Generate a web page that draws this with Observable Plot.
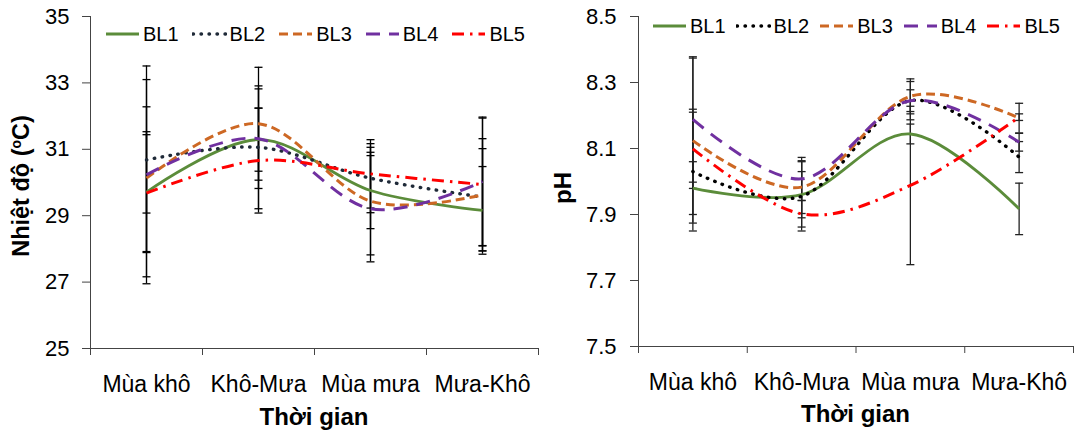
<!DOCTYPE html>
<html><head><meta charset="utf-8">
<script src="https://cdn.jsdelivr.net/npm/d3@7"></script>
<script src="https://cdn.jsdelivr.net/npm/@observablehq/plot@0.6"></script>
<style>
body{margin:0;background:#fff;font-family:"Liberation Sans",Arial,sans-serif;}
#wrap{position:relative;width:1077px;height:430px;overflow:hidden;background:#fff;}
.panel{position:absolute;top:0;}
.legend{position:absolute;display:flex;align-items:center;font-size:20px;color:#000;line-height:20px;}
.item{display:flex;align-items:center;}
.item svg{display:block;margin-right:3px;}
</style></head><body><div id="wrap"></div>
<script>
// ---- data ----
const seasons = ["Mùa khô", "Khô-Mưa", "Mùa mưa", "Mưa-Khô"];
const seriesNames = ["BL1", "BL2", "BL3", "BL4", "BL5"];
const tempTicks = [25, 27, 29, 31, 33, 35];
const phTicks = [7.5, 7.7, 7.9, 8.1, 8.3, 8.5];

// Temperature (°C) means
const tempBL1 = [29.71, 31.29, 29.76, 29.16];
const tempBL2 = [30.68, 31.06, 30.13, 29.56];
const tempBL3 = [30.13, 31.77, 29.44, 29.63];
const tempBL4 = [30.23, 31.32, 29.21, 30.03];
const tempBL5 = [29.68, 30.66, 30.26, 29.94];
// Temperature SD
const tempSdBL1 = [1.82, 0.95, 1.15, 1.32];
const tempSdBL2 = [1.60, 1.85, 1.04, 1.46];
const tempSdBL3 = [2.97, 1.70, 1.62, 1.69];
const tempSdBL4 = [3.28, 1.50, 1.60, 1.94];
const tempSdBL5 = [1.76, 1.58, 1.03, 2.00];

// pH means
const phBL1 = [7.980, 7.960, 8.144, 7.917];
const phBL2 = [8.030, 7.955, 8.245, 8.074];
const phBL3 = [8.124, 7.983, 8.258, 8.192];
const phBL4 = [8.188, 8.008, 8.245, 8.119];
const phBL5 = [8.099, 7.902, 7.988, 8.195];
// pH SD
const phSdBL1 = [0.080, 0.070, 0.030, 0.078];
const phSdBL2 = [0.180, 0.105, 0.058, 0.047];
const phSdBL3 = [0.250, 0.080, 0.053, 0.045];
const phSdBL4 = [0.190, 0.065, 0.033, 0.027];
const phSdBL5 = [0.120, 0.040, 0.240, 0.010];

// ---- styles ----
const FONT = "Liberation Sans, Arial, sans-serif";
const lineStyles = {
  BL1: {stroke: "#5b8c3a", strokeWidth: 2.8, strokeDasharray: null, strokeLinecap: "butt"},
  BL2: {stroke: "#1f2a38", strokeWidth: 3.4, strokeDasharray: "0.5 7.5", strokeLinecap: "round"},
  BL3: {stroke: "#cd6824", strokeWidth: 3, strokeDasharray: "9 5", strokeLinecap: "butt"},
  BL4: {stroke: "#7030a0", strokeWidth: 3, strokeDasharray: "14 9", strokeLinecap: "butt"},
  BL5: {stroke: "#ff0000", strokeWidth: 3, strokeDasharray: "12 6 2.5 6", strokeLinecap: "butt"}
};

function rowsFrom(meansList, sdList) {
  const rows = [];
  seriesNames.forEach((s, k) => {
    seasons.forEach((season, i) => rows.push({s, i, v: meansList[k][i], sd: sdList[k][i]}));
  });
  return rows;
}

const capSymbol = {draw(ctx) { ctx.moveTo(-4, 0); ctx.lineTo(4, 0); }};

function makeChart(o) {
  const rows = rowsFrom(o.means, o.sds);
  const marks = [
    Plot.ruleX(rows, {x: "i", y1: d => d.v - d.sd, y2: d => d.v + d.sd, stroke: o.errColor, strokeWidth: 1.3}),
    Plot.dot(rows, {x: "i", y: d => d.v + d.sd, symbol: capSymbol, stroke: o.errColor, strokeWidth: 1.3, fill: "none"}),
    Plot.dot(rows, {x: "i", y: d => d.v - d.sd, symbol: capSymbol, stroke: o.errColor, strokeWidth: 1.3, fill: "none"}),
  ];
  seriesNames.forEach(s => {
    const st = {...lineStyles[s]};
    if (s === "BL2") st.stroke = o.dotColor;
    marks.push(Plot.line(rows.filter(d => d.s === s), {x: "i", y: "v", curve: "cardinal", tension: 0, ...st}));
  });
  marks.push(
    Plot.ruleY([o.yDomain[0]], {stroke: "#444", strokeWidth: 1}),
    Plot.ruleX([-0.5], {stroke: "#444", strokeWidth: 1}),
    Plot.axisY({ticks: o.yTicks, tickSize: 8, tickPadding: o.yPad, tickFormat: o.yFmt, fontSize: 22, label: null, stroke: "#444", fill: "#000"}),
    Plot.axisX({ticks: [-0.5, 0.5, 1.5, 2.5, 3.5], tickSize: 7, tickFormat: () => "", label: null, stroke: "#444"}),
    Plot.axisX({ticks: [0, 1, 2, 3], tickSize: 0, tickPadding: 27, tickFormat: i => seasons[i], fontSize: 23, label: null, fill: "#000"})
  );
  const svg = Plot.plot({
    width: o.width, height: 430,
    marginLeft: o.marginLeft, marginRight: o.marginRight, marginTop: 16, marginBottom: o.marginBottom,
    x: {domain: [-0.5, 3.5]},
    y: {domain: o.yDomain},
    style: {fontFamily: FONT, fontSize: "22px", color: "#000", background: "transparent", overflow: "visible"},
    marks
  });
  const sel = d3.select(svg);
  const yt = sel.append("text")
    .attr("transform", `translate(${o.yTitleX},${o.yTitleY}) rotate(-90)`)
    .attr("text-anchor", "middle").attr("font-weight", "bold").attr("font-size", o.yTitleSize)
    .attr("font-family", FONT).attr("fill", "#000");
  o.yTitle.forEach(part => {
    const ts = yt.append("tspan").text(part.t);
    if (part.sup) ts.attr("font-size", 14).attr("dy", -8);
    else if (part.after) ts.attr("dy", 8);
  });
  sel.append("text")
    .attr("x", (o.marginLeft + o.width - o.marginRight) / 2).attr("y", o.xTitleY)
    .attr("text-anchor", "middle").attr("font-weight", "bold").attr("font-size", 24)
    .attr("font-family", FONT).attr("fill", "#000")
    .text("Thời gian");
  return svg;
}

function makeLegend(left, top, gap, dotColor) {
  const lg = document.createElement("div");
  lg.className = "legend";
  lg.style.left = left + "px"; lg.style.top = top + "px"; lg.style.gap = gap + "px";
  seriesNames.forEach(s => {
    const st = lineStyles[s];
    const it = document.createElement("div"); it.className = "item";
    const sw = d3.create("svg").attr("width", 35).attr("height", 10);
    sw.append("line").attr("x1", 1).attr("x2", 34).attr("y1", 5).attr("y2", 5)
      .attr("stroke", s === "BL2" ? dotColor : st.stroke).attr("stroke-width", st.strokeWidth)
      .attr("stroke-dasharray", st.strokeDasharray).attr("stroke-linecap", st.strokeLinecap);
    it.appendChild(sw.node());
    const t = document.createElement("span"); t.textContent = s;
    it.appendChild(t);
    lg.appendChild(it);
  });
  return lg;
}

const wrap = document.getElementById("wrap");

const p1 = document.createElement("div"); p1.className = "panel"; p1.style.left = "0px";
p1.appendChild(makeChart({
  means: [tempBL1, tempBL2, tempBL3, tempBL4, tempBL5],
  sds: [tempSdBL1, tempSdBL2, tempSdBL3, tempSdBL4, tempSdBL5],
  yDomain: [25, 35], yTicks: tempTicks, yFmt: d => String(d), yPad: 13,
  width: 540, marginLeft: 90, marginRight: 2, marginBottom: 82,
  errColor: "#000", dotColor: "#1f2a38",
  yTitle: [{t: "Nhiệt độ ("}, {t: "o", sup: true}, {t: "C)", after: true}], yTitleSize: 23.5,
  yTitleX: 29, yTitleY: 186, xTitleY: 425
}));
wrap.appendChild(p1);

const p2 = document.createElement("div"); p2.className = "panel"; p2.style.left = "540px";
p2.appendChild(makeChart({
  means: [phBL1, phBL2, phBL3, phBL4, phBL5],
  sds: [phSdBL1, phSdBL2, phSdBL3, phSdBL4, phSdBL5],
  yDomain: [7.5, 8.5], yTicks: phTicks, yFmt: d3.format(".1f"), yPad: 14,
  width: 537, marginLeft: 98, marginRight: 4, marginBottom: 84,
  errColor: "#222", dotColor: "#000",
  yTitle: [{t: "pH"}], yTitleSize: 24, yTitleX: 31, yTitleY: 188, xTitleY: 422
}));
wrap.appendChild(p2);

wrap.appendChild(makeLegend(105, 24, 13, "#1f2a38"));
wrap.appendChild(makeLegend(652, 16, 10, "#000"));
</script></body></html>
